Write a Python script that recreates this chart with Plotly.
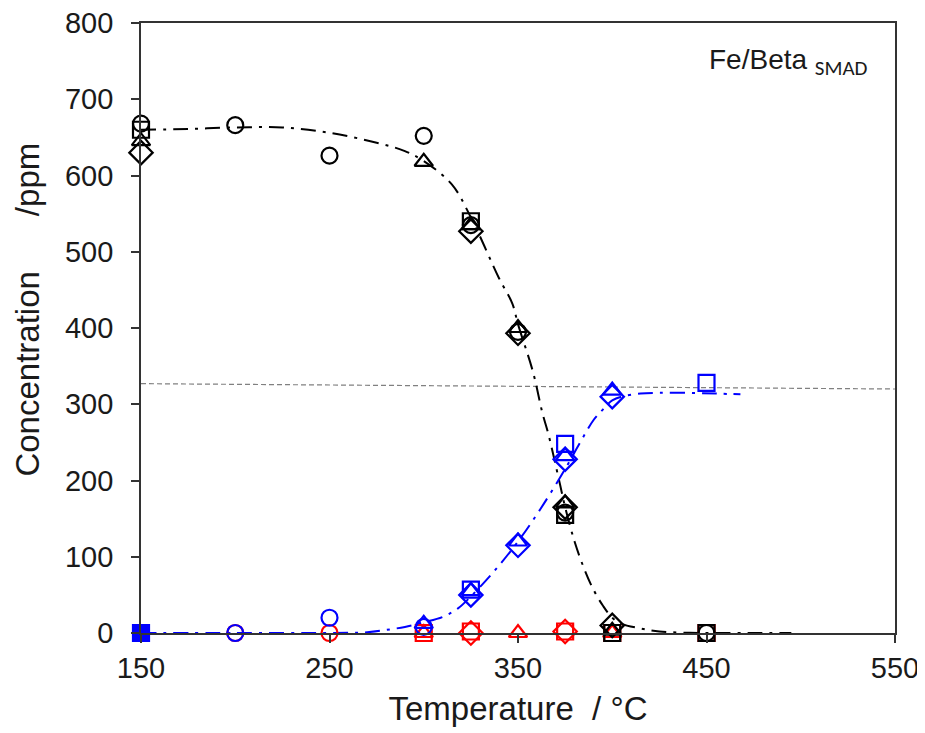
import plotly.graph_objects as go

# ---- data ----
# black series (reactant)
blk_circle_T = [150, 200, 250, 300, 325, 350, 375, 450]
blk_circle_C = [668, 666, 626, 652, 535, 395, 158, 0]
blk_square_T = [150, 325, 375, 400, 450]
blk_square_C = [660, 540, 155, 0, 0]
blk_tri_T = [150, 300, 325, 350, 375, 400]
blk_tri_C = [645, 618, 535, 400, 170, 3]
blk_dia_T = [150, 325, 350, 375, 400]
blk_dia_C = [630, 527, 393, 165, 10]

# blue series
blu_circle_T = [150, 200, 250, 300]
blu_circle_C = [0, 0, 20, 8]
blu_square_T = [325, 375, 450]
blu_square_C = [57, 248, 328]
blu_fsquare_T = [150]
blu_fsquare_C = [0]
blu_tri_T = [300, 325, 350, 375, 400]
blu_tri_C = [12, 55, 120, 232, 318]
blu_dia_T = [325, 350, 375, 400]
blu_dia_C = [50, 115, 228, 310]

# red series
red_circle_T = [200, 250]
red_circle_C = [0, 0]
red_square_T = [300, 325, 375, 400, 450]
red_square_C = [0, 2, 2, 0, 0]
red_tri_T = [300, 350, 400]
red_tri_C = [0, 0, 0]
red_dia_T = [325, 375]
red_dia_C = [0, 2]

# fitted curves
blk_fit_T = [150, 175, 200, 225, 250, 275, 290, 300, 315, 325, 340, 347, 350, 358, 363, 366, 372, 375, 380, 385, 390, 395, 400, 405, 415, 425, 450, 475, 495]
blk_fit_C = [660, 661, 663, 663, 656, 643, 632, 619, 588, 545, 465, 432, 405, 342, 288, 262, 198, 165, 120, 85, 57, 36, 20, 12, 6, 2, 0, 0, 0]
blu_fit_T = [150, 200, 250, 270, 280, 290, 300, 310, 318, 325, 337, 350, 362, 375, 383, 390, 395, 400, 405, 415, 425, 440, 455, 468]
blu_fit_C = [0, 0, 0, 1, 4, 8, 14, 21, 32, 48, 80, 120, 163, 215, 250, 279, 293, 305, 310, 314, 315, 315, 314, 313]

# reference dashed line
ref_T = [150, 550]
ref_C = [327, 320]

x_ticks = [150, 250, 350, 450, 550]

fig = go.Figure()

fig.add_trace(go.Scatter(x=ref_T, y=ref_C, mode="lines",
                         line=dict(color="#808080", width=1.2, dash="5px,3px"), showlegend=False))
fig.add_trace(go.Scatter(x=blk_fit_T, y=blk_fit_C, mode="lines", line_shape="spline",
                         line=dict(color="black", width=2, dash="15px,7px,3px,7px"), showlegend=False))
fig.add_trace(go.Scatter(x=blu_fit_T, y=blu_fit_C, mode="lines", line_shape="spline",
                         line=dict(color="#0000FF", width=2, dash="15px,7px,3px,7px"), showlegend=False))

def add_markers(T, C, sym, color, size=16):
    fig.add_trace(go.Scatter(x=T, y=C, mode="markers", showlegend=False, cliponaxis=False,
                             marker=dict(symbol=sym, size=size, color=color,
                                         line=dict(color=color, width=2.2))))

for col, sets in [
    ("#FF0000", [(red_circle_T, red_circle_C, "circle-open"), (red_square_T, red_square_C, "square-open"),
                 (red_tri_T, red_tri_C, "triangle-up-open"), (red_dia_T, red_dia_C, "diamond-open")]),
    ("#0000FF", [(blu_circle_T, blu_circle_C, "circle-open"), (blu_square_T, blu_square_C, "square-open"),
                 (blu_fsquare_T, blu_fsquare_C, "square"),
                 (blu_tri_T, blu_tri_C, "triangle-up-open"), (blu_dia_T, blu_dia_C, "diamond-open")]),
    ("black", [(blk_circle_T, blk_circle_C, "circle-open"), (blk_square_T, blk_square_C, "square-open"),
               (blk_tri_T, blk_tri_C, "triangle-up-open"), (blk_dia_T, blk_dia_C, "diamond-open")]),
]:
    for T, C, sym in sets:
        add_markers(T, C, sym, col, 18 if "diamond" in sym else 16)

font_family = "Liberation Sans, Arial, sans-serif"

fig.update_layout(
    width=925, height=733,
    margin=dict(l=133, r=38, t=15, b=108, autoexpand=False),
    paper_bgcolor="white", plot_bgcolor="white",
    font=dict(family=font_family, color="#1a1a1a", size=29),
    xaxis=dict(range=[150, 550], tickvals=x_ticks,
               showline=True, linecolor="#333333", linewidth=1.8, mirror=True,
               ticks="outside", ticklen=8, tickwidth=1.5, tickcolor="#333333",
               showgrid=False, zeroline=False, ticklabeloverflow="allow",
               tickfont=dict(size=29),
               title=dict(text="Temperature\u00a0 / °C", font=dict(size=33), standoff=14)),
    yaxis=dict(range=[0, 800], dtick=100,
               showline=True, linecolor="#333333", linewidth=1.8, mirror=True,
               ticks="outside", ticklen=8, tickwidth=1.5, tickcolor="#333333",
               showgrid=False, zeroline=False, ticklabeloverflow="allow",
               ticklabelstandoff=12,
               tickfont=dict(size=29)),
    annotations=[
        dict(x=-0.150, y=0.53, xref="paper", yref="paper", xanchor="center", yanchor="middle",
             showarrow=False, textangle=-90,
             text="Concentration\u00a0\u00a0\u00a0\u00a0\u00a0 /ppm", font=dict(size=33, family=font_family)),
        dict(x=0.967, y=0.936, xref="paper", yref="paper", xanchor="right", yanchor="middle",
             showarrow=False,
             text="Fe/Beta <sub><span style='font-family:Carlito, Liberation Sans, sans-serif;font-size:21px'>SMAD</span></sub>",
             font=dict(size=28, family=font_family)),
    ],
)

fig.write_html("out.html")
